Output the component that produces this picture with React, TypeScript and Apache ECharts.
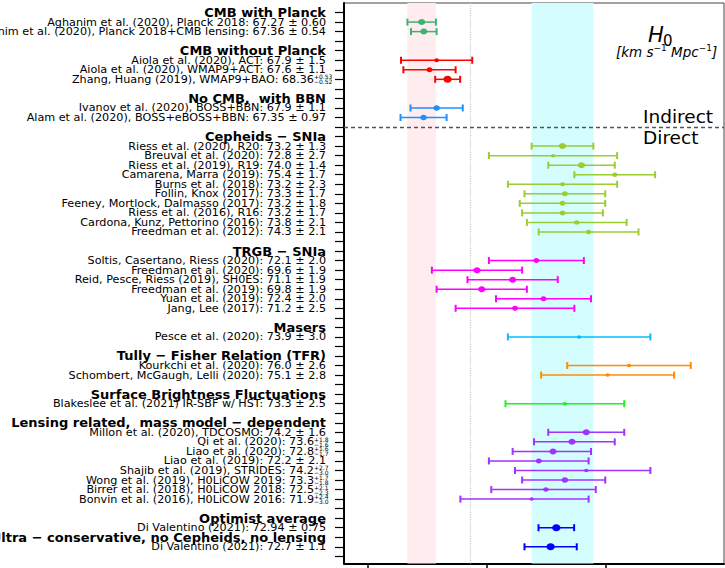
import React, { useEffect, useRef } from "react";
import * as echarts from "echarts";

// ---------- data ----------
const groupTitles = [
  "CMB with Planck",
  "CMB without Planck",
  "No CMB,  with BBN",
  "Cepheids − SNIa",
  "TRGB − SNIa",
  "Masers",
  "Tully − Fisher Relation (TFR)",
  "Surface Brightness Fluctuations",
  "Lensing related,  mass model − dependent",
  "Optimist average",
  "Ultra − conservative, no Cepheids, no lensing",
];
const groupSizes = [2, 3, 2, 10, 6, 1, 2, 1, 8, 1, 1];
const groupGapAfter = [1, 1, 1, 1, 1, 1, 1, 1, 1, 0, 1];
const groupColors = [
  "#3cb371", "#ff0000", "#1e90ff", "#9acd32", "#ff00ff", "#00bfff",
  "#ff8c00", "#22ee22", "#a033ff", "#0000ff", "#0000ff",
];

const studies = [
  "Aghanim et al. (2020), Planck 2018",
  "Aghanim et al. (2020), Planck 2018+CMB lensing",
  "Aiola et al. (2020), ACT",
  "Aiola et al. (2020), WMAP9+ACT",
  "Zhang, Huang (2019), WMAP9+BAO",
  "Ivanov et al. (2020), BOSS+BBN",
  "Alam et al. (2020), BOSS+eBOSS+BBN",
  "Riess et al. (2020), R20",
  "Breuval et al. (2020)",
  "Riess et al. (2019), R19",
  "Camarena, Marra (2019)",
  "Burns et al. (2018)",
  "Follin, Knox (2017)",
  "Feeney, Mortlock, Dalmasso (2017)",
  "Riess et al. (2016), R16",
  "Cardona, Kunz, Pettorino (2016)",
  "Freedman et al. (2012)",
  "Soltis, Casertano, Riess (2020)",
  "Freedman et al. (2020)",
  "Reid, Pesce, Riess (2019), SH0ES",
  "Freedman et al. (2019)",
  "Yuan et al. (2019)",
  "Jang, Lee (2017)",
  "Pesce et al. (2020)",
  "Kourkchi et al. (2020)",
  "Schombert, McGaugh, Lelli (2020)",
  "Blakeslee et al. (2021) IR-SBF w/ HST",
  "Millon et al. (2020), TDCOSMO",
  "Qi et al. (2020)",
  "Liao et al. (2020)",
  "Liao et al. (2019)",
  "Shajib et al. (2019), STRIDES",
  "Wong et al. (2019), H0LiCOW 2019",
  "Birrer et al. (2018), H0LiCOW 2018",
  "Bonvin et al. (2016), H0LiCOW 2016",
  "Di Valentino (2021)",
  "Di Valentino (2021)",
];
const h0Values = [
  67.27, 67.36, 67.9, 67.6, 68.36, 67.9, 67.35,
  73.2, 72.8, 74.0, 75.4, 73.2, 73.3, 73.2, 73.2, 73.8, 74.3,
  72.1, 69.6, 71.1, 69.8, 72.4, 71.2,
  73.9, 76.0, 75.1, 73.3,
  74.2, 73.6, 72.8, 72.2, 74.2, 73.3, 72.5, 71.9,
  72.94, 72.7,
];
const errMinus = [
  0.6, 0.54, 1.5, 1.1, 0.52, 1.1, 0.97,
  1.3, 2.7, 1.4, 1.7, 2.3, 1.7, 1.8, 1.7, 2.1, 2.1,
  2.0, 1.9, 1.9, 1.9, 2.0, 2.5,
  3.0, 2.6, 2.8, 2.5,
  1.6, 1.6, 1.7, 2.1, 3.0, 1.8, 2.3, 3.0,
  0.75, 1.1,
];
const errPlus = [
  0.6, 0.54, 1.5, 1.1, 0.53, 1.1, 0.97,
  1.3, 2.7, 1.4, 1.7, 2.3, 1.7, 1.8, 1.7, 2.1, 2.1,
  2.0, 1.9, 1.9, 1.9, 2.0, 2.5,
  3.0, 2.6, 2.8, 2.5,
  1.6, 1.8, 1.6, 2.1, 2.7, 1.7, 2.1, 2.4,
  0.75, 1.1,
];
const xTicks = [65, 70, 75];
const referenceLine = 69.33;
const shoesIndex = 7; // Riess et al. (2020), R20 band
const planckIndex = 0; // Planck 2018 band

// ---------- styles ----------
const markerSizes = [
  6, 6, 4, 5, 7, 5.5, 5.5,
  6, 3.5, 6, 4.5, 4, 5, 5, 5, 4.5, 4.5,
  5, 6, 6, 6, 5, 5,
  3.5, 3.5, 3.5, 3.5,
  6, 6, 6, 5, 3.5, 5.5, 4.5, 3.5,
  7, 7,
];

const FONT = "DejaVu Sans";

function fmt(v: number, dec: number) {
  return v.toFixed(dec);
}
function decimalsOf(v: number) {
  return Math.abs(v * 10 - Math.round(v * 10)) < 1e-6 ? 1 : 2;
}

export default function App() {
  const ref = useRef<HTMLDivElement>(null);

  useEffect(() => {
    if (!ref.current) return;
    const chart = echarts.init(ref.current, undefined, { renderer: "svg" });

    const rowText: Record<number, string> = {};
    const asymText: Record<number, string> = {};
    const asymRows: number[] = [];
    const labelRows: number[] = [];
    const points: any[] = [];
    let row = 0;
    let si = 0;
    let dividerRow = 0;
    groupTitles.forEach((title, g) => {
      rowText[row] = `{b|${title}}`;
      labelRows.push(row);
      row++;
      for (let k = 0; k < groupSizes[g]; k++) {
        const v = h0Values[si];
        const lo = errMinus[si];
        const hi = errPlus[si];
        const d = decimalsOf(v);
        if (Math.abs(lo - hi) < 1e-9) {
          rowText[row] = `{n|${studies[si]}: ${fmt(v, d)} ± ${fmt(lo, d)}}`;
        } else {
          rowText[row] = `{n|${studies[si]}: ${fmt(v, d)}}{g|}`;
          asymText[row] = `{s|+${fmt(hi, d)}}\n{s|−${fmt(lo, d)}}`;
          asymRows.push(row);
        }
        labelRows.push(row);
        points.push([v, row, lo, hi, g, markerSizes[si]]);
        row++;
        si++;
      }
      if (g === 2) dividerRow = row;
      row += groupGapAfter[g];
    });
    const allRows: number[] = [];
    for (let r = 0; r < row; r++) allRows.push(r);

    const yMin = -1;
    const yMax = row - 0.25;
    const mainLabelValues = [yMin, ...labelRows, row - 1];
    const asymLabelValues = [yMin, ...asymRows, row - 1];

    const option: any = {
      animation: false,
      backgroundColor: "#ffffff",
      grid: {
        left: 344,
        top: 3,
        right: 1,
        bottom: 4.5,
        containLabel: false,
        outerBoundsMode: "none",
        show: true,
        borderColor: "#444",
        borderWidth: 1,
        backgroundColor: "transparent",
      },
      xAxis: {
        type: "value",
        min: 64,
        max: 80,
        axisLine: { show: true, onZero: false, lineStyle: { color: "#000", width: 2 } },
        axisTick: { show: true, customValues: xTicks, length: 7, lineStyle: { color: "#000", width: 1.5 } },
        axisLabel: { show: false },
        splitLine: { show: false },
      },
      yAxis: [
        {
          type: "value",
          inverse: true,
          min: yMin,
          max: yMax,
          axisLine: { show: true, onZero: false, lineStyle: { color: "#000", width: 2 } },
          axisTick: { show: true, customValues: allRows, length: 9, lineStyle: { color: "#000", width: 1.2 } },
          axisLabel: {
            show: true,
            customValues: mainLabelValues,
            margin: 18,
            hideOverlap: false,
            showMinLabel: true,
            showMaxLabel: true,
            formatter: (v: number) => rowText[Math.round(v)] ?? "",
            rich: {
              n: { fontFamily: FONT, fontSize: 11.2, color: "#000", lineHeight: 9 },
              b: { fontFamily: FONT, fontSize: 13, fontWeight: "bold", color: "#000", lineHeight: 9 },
              g: { width: 12, lineHeight: 9 },
            },
          },
          splitLine: { show: false },
        },
        {
          type: "value",
          inverse: true,
          min: yMin,
          max: yMax,
          position: "left",
          axisLine: { show: false },
          axisTick: { show: false },
          axisLabel: {
            show: true,
            customValues: asymLabelValues,
            margin: 30,
            align: "left",
            hideOverlap: false,
            showMinLabel: true,
            showMaxLabel: true,
            formatter: (v: number) => asymText[Math.round(v)] ?? "",
            rich: {
              s: { fontFamily: FONT, fontSize: 6, lineHeight: 5, color: "#000" },
            },
          },
          splitLine: { show: false },
        },
      ],
      graphic: [
        {
          type: "text",
          left: 648,
          top: 24,
          style: { text: "H", font: `italic 21px ${FONT}`, fill: "#000" },
          z: 100,
        },
        {
          type: "text",
          left: 663,
          top: 33,
          style: { text: "0", font: `15px ${FONT}`, fill: "#000" },
          z: 100,
        },
        {
          type: "text",
          left: 616,
          top: 43,
          style: {
            text: "{u|[km s}{p|−1}{u| Mpc}{p|−1}{u|]}",
            rich: {
              u: { fontFamily: FONT, fontStyle: "italic", fontSize: 13.5, color: "#000", lineHeight: 16, verticalAlign: "bottom" },
              p: { fontFamily: FONT, fontSize: 9, color: "#000", lineHeight: 16, verticalAlign: "top" },
            },
          },
          z: 100,
        },
        {
          type: "text",
          left: 643,
          top: 107,
          style: { text: "Indirect", font: `18.5px ${FONT}`, fill: "#000" },
          z: 100,
        },
        {
          type: "text",
          left: 643,
          top: 128,
          style: { text: "Direct", font: `18.5px ${FONT}`, fill: "#000" },
          z: 100,
        },
      ],
      series: [
        {
          type: "line",
          data: [],
          silent: true,
          z: 1,
          markArea: {
            silent: true,
            data: [
              [
                { xAxis: h0Values[planckIndex] - errMinus[planckIndex], itemStyle: { color: "#ffecef" } },
                { xAxis: h0Values[planckIndex] + errPlus[planckIndex] },
              ],
              [
                { xAxis: h0Values[shoesIndex] - errMinus[shoesIndex], itemStyle: { color: "#d4fdfd" } },
                { xAxis: h0Values[shoesIndex] + errPlus[shoesIndex] },
              ],
            ],
          },
          markLine: {
            silent: true,
            symbol: "none",
            label: { show: false },
            data: [
              { xAxis: referenceLine, lineStyle: { color: "#c8c8c8", type: "dotted", width: 1.2 } },
              { yAxis: dividerRow, lineStyle: { color: "#555", type: [4, 3], width: 1.3 } },
            ],
          },
        },
        {
          type: "custom",
          coordinateSystem: "cartesian2d",
          xAxisIndex: 0,
          yAxisIndex: 0,
          z: 5,
          clip: false,
          encode: { x: 0, y: 1 },
          data: points,
          renderItem: (params: any, api: any) => {
            const v = api.value(0);
            const r = api.value(1);
            const lo = api.value(2);
            const hi = api.value(3);
            const color = groupColors[api.value(4)];
            const s = api.value(5);
            const c = api.coord([v, r]);
            const a = api.coord([v - lo, r]);
            const b = api.coord([v + hi, r]);
            return {
              type: "group",
              children: [
                { type: "line", shape: { x1: a[0], y1: a[1], x2: b[0], y2: b[1] }, style: { stroke: color, lineWidth: 1.5 } },
                { type: "line", shape: { x1: a[0], y1: a[1] - 3.5, x2: a[0], y2: a[1] + 3.5 }, style: { stroke: color, lineWidth: 2 } },
                { type: "line", shape: { x1: b[0], y1: b[1] - 3.5, x2: b[0], y2: b[1] + 3.5 }, style: { stroke: color, lineWidth: 2 } },
                { type: "ellipse", shape: { cx: c[0], cy: c[1], rx: s * 0.6, ry: s * 0.5 }, style: { fill: color } },
              ],
            };
          },
        },
      ],
    };

    chart.setOption(option);
    return () => chart.dispose();
  }, []);

  return (
    <div
      ref={ref}
      style={{ position: "fixed", left: 0, top: 0, width: 725, height: 568, background: "#fff" }}
    />
  );
}
